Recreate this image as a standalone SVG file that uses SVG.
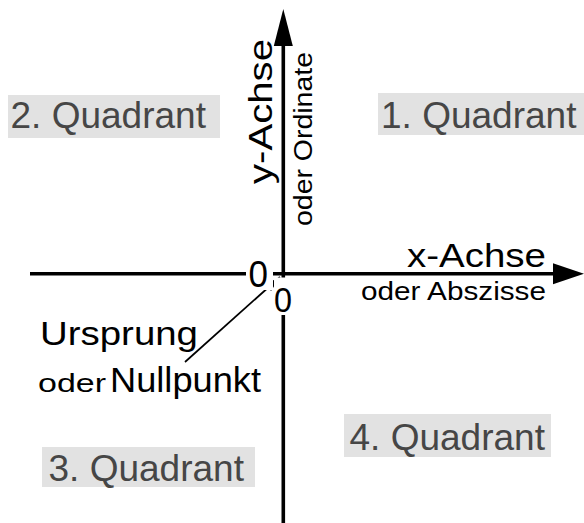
<svg xmlns="http://www.w3.org/2000/svg" width="584" height="523" viewBox="0 0 584 523">
  <style>
    .axis { stroke: #000; stroke-width: 3.6; fill: none; }
    .pointer { stroke: #000; stroke-width: 1.7; fill: none; }
    .lbl { font-family: "Liberation Sans", Arial, sans-serif; fill: #000; }
    .big { font-size: 33px; }
    .small { font-size: 25px; }
    .zero { font-size: 37px; }
    .qbox { fill: #e2e2e2; }
    .qtxt { font-family: "Liberation Sans", Arial, sans-serif; font-size: 37px; fill: #464646; }
  </style>
  <defs>
    <marker id="headY" markerUnits="userSpaceOnUse" markerWidth="37" markerHeight="19" refX="0" refY="9.5" orient="auto" overflow="visible">
      <path d="M0,0 L37,9.5 L0,19 Z" fill="#000"/>
    </marker>
    <marker id="headX" markerUnits="userSpaceOnUse" markerWidth="31" markerHeight="21" refX="0" refY="10.5" orient="auto" overflow="visible">
      <path d="M0,0 L31,10.5 L0,21 Z" fill="#000"/>
    </marker>
    <marker id="headSmall" markerUnits="userSpaceOnUse" markerWidth="16" markerHeight="9" refX="16" refY="4.5" orient="auto" overflow="visible">
      <path d="M0,0 L16,4.5 L0,9 Z" fill="#000"/>
    </marker>
  </defs>

  <!-- quadrant labels -->
  <g id="quadrant1">
    <rect class="qbox" x="378" y="93" width="206" height="42"/>
    <text class="qtxt" x="381" y="127.7">1. Quadrant</text>
  </g>
  <g id="quadrant2">
    <rect class="qbox" x="8" y="95" width="212" height="43"/>
    <text class="qtxt" x="10.5" y="128.3">2. Quadrant</text>
  </g>
  <g id="quadrant3">
    <rect class="qbox" x="42" y="447" width="213" height="40"/>
    <text class="qtxt" x="48.5" y="480.7">3. Quadrant</text>
  </g>
  <g id="quadrant4">
    <rect class="qbox" x="344" y="414" width="207" height="43"/>
    <text class="qtxt" x="349.5" y="450">4. Quadrant</text>
  </g>

  <!-- axes and pointer -->
  <g id="connectors">
    <path class="axis" d="M30,273.7 H553" marker-end="url(#headX)"/>
    <path class="axis" d="M283.3,523 V46" marker-end="url(#headY)"/>
    <path class="pointer" d="M185,362 L280,277" marker-end="url(#headSmall)"/>
  </g>

  <!-- zero marks on the axes, knocked out of the lines -->
  <g id="zeroX">
    <rect x="246" y="258" width="27" height="32" fill="#fff"/>
    <text class="lbl zero" x="248.5" y="286.7" textLength="19.5" lengthAdjust="spacingAndGlyphs">0</text>
  </g>
  <g id="zeroY">
    <rect x="274" y="277.5" width="19" height="37.5" fill="#fff"/>
    <text class="lbl zero" x="274" y="311.7" style="font-size:35px" textLength="18" lengthAdjust="spacingAndGlyphs">0</text>
  </g>

  <!-- axis names -->
  <g id="xAxisLabel">
    <text class="lbl big" x="407" y="266.7" textLength="139" lengthAdjust="spacingAndGlyphs">x-Achse</text>
    <text class="lbl small" x="361" y="300" textLength="185" lengthAdjust="spacingAndGlyphs">oder Abszisse</text>
  </g>
  <g id="yAxisLabel">
    <text class="lbl big" transform="translate(272,184) rotate(-90)" x="0" y="0" textLength="145" lengthAdjust="spacingAndGlyphs">y-Achse</text>
    <text class="lbl small" transform="translate(311.5,226) rotate(-90)" x="0" y="0" textLength="174" lengthAdjust="spacingAndGlyphs">oder Ordinate</text>
  </g>

  <!-- origin annotation -->
  <g id="origin">
    <text class="lbl big" x="40" y="345" textLength="158" lengthAdjust="spacingAndGlyphs">Ursprung</text>
    <text class="lbl small" x="38" y="392" textLength="68" lengthAdjust="spacingAndGlyphs">oder</text>
    <text class="lbl" x="110" y="392" style="font-size:35px" textLength="151" lengthAdjust="spacingAndGlyphs">Nullpunkt</text>
  </g>
</svg>
